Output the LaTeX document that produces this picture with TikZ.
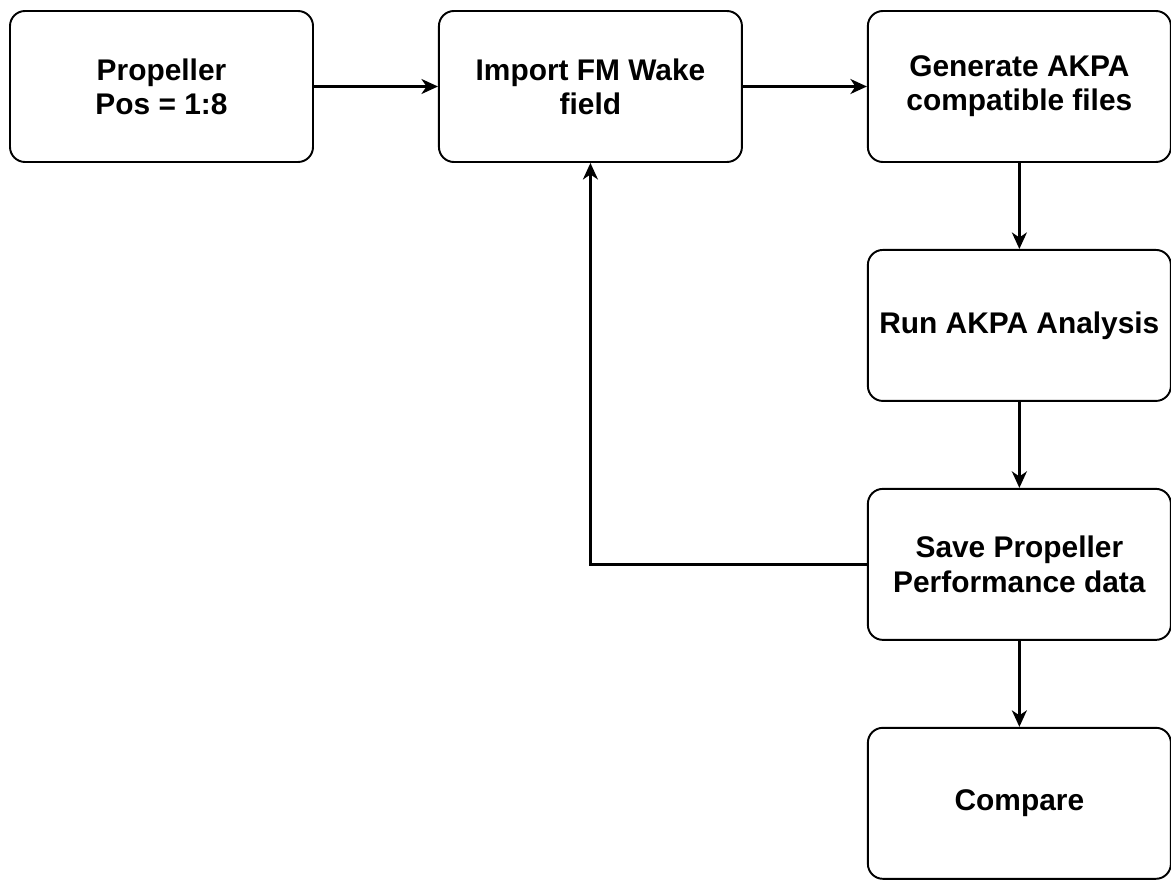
\documentclass[tikz,border=0pt]{standalone}
\usepackage{fontspec}
\setmainfont{Liberation Sans}
\usetikzlibrary{arrows.meta,positioning}

\tikzset{
  stagebox/.style={draw=black, line width=1.1pt, rounded corners=0.3cm,
    minimum width=6.06cm, minimum height=3.02cm, align=center,
    font=\fontsize{17}{19.5}\selectfont\bfseries, text=black},
  flowarrow/.style={-{Stealth[length=3.3mm,width=3mm,inset=1mm]}, line width=1.3pt, black}
}

\begin{document}
\begin{tikzpicture}
    % fixed frame of the page
    \useasboundingbox (0,0) rectangle (23.42,-17.64);

    % top row
    \node[stagebox] (prop) at (3.23,-1.73) {Propeller\\Pos = 1:8};
    \node[stagebox, right=2.48cm of prop] (wake) {Import FM Wake\\field};
    \node[stagebox, right=2.48cm of wake] (akpafiles) {Generate AKPA\\compatible files};

    % right column
    \node[stagebox, below=1.72cm of akpafiles] (runakpa) {Run AKPA Analysis};
    \node[stagebox, below=1.72cm of runakpa] (savedata) {Save Propeller\\Performance data};
    \node[stagebox, below=1.72cm of savedata] (compare) {Compare};

    % connectors
    \draw[flowarrow] (prop) -- (wake);
    \draw[flowarrow] (wake) -- (akpafiles);
    \draw[flowarrow] (akpafiles) -- (runakpa);
    \draw[flowarrow] (runakpa) -- (savedata);
    \draw[flowarrow] (savedata) -- (compare);

    % loop back to next position
    \draw[flowarrow] (savedata.west) -| (wake.south);
\end{tikzpicture}
\end{document}
